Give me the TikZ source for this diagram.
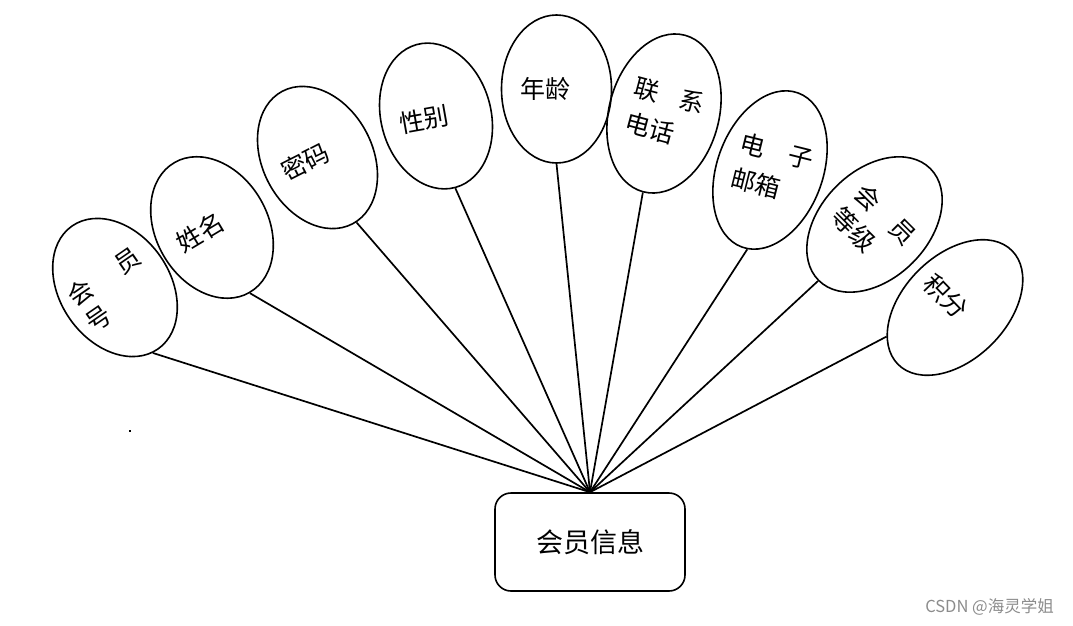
\documentclass[tikz,border=0pt]{standalone}
\usepackage{fontspec}
\newfontfamily\cjk{Noto Sans CJK SC}
\usetikzlibrary{shapes.geometric}
\begin{document}
\begin{tikzpicture}[x=1pt,y=-1pt,
  attr/.style={draw, ellipse, line width=1.6pt, inner sep=0pt},
  lbl/.style={font=\cjk\fontsize{25}{30}\selectfont, align=left, inner sep=0pt},
  conn/.style={line width=1.7pt},
  entity/.style={draw, line width=1.6pt, rounded corners=16pt, minimum width=190pt, minimum height=98pt, inner sep=0pt, font=\cjk\fontsize{27}{30}\selectfont}]
\useasboundingbox (0,0) rectangle (1073,626);
% attribute ellipses
\node[attr, minimum width=110pt, minimum height=150pt, rotate=35] (e1) at (115,287.5) {};
\node[attr, minimum width=112pt, minimum height=150pt, rotate=30] (e2) at (212,227.5) {};
\node[attr, minimum width=110pt, minimum height=150pt, rotate=28] (e3) at (317.5,157.5) {};
\node[attr, minimum width=110pt, minimum height=148pt, rotate=15] (e4) at (436,116) {};
\node[attr, minimum width=110pt, minimum height=148pt] (e5) at (556.5,89) {};
\node[attr, minimum width=110pt, minimum height=162pt, rotate=-15] (e6) at (664,113.5) {};
\node[attr, minimum width=106pt, minimum height=164pt, rotate=-20] (e7) at (770,170) {};
\node[attr, minimum width=108pt, minimum height=158pt, rotate=-45] (e8) at (874.5,224.5) {};
\node[attr, minimum width=104pt, minimum height=161pt, rotate=-45] (e9) at (955,307.5) {};
% labels
\node[lbl, font=\cjk\fontsize{25}{31}\selectfont, rotate=34.5] (t1) at (113,289.5) {会\hspace{32pt}员\\号};
\node[lbl, rotate=31] (t2) at (200.5,232.5) {姓名};
\node[lbl, rotate=27] (t3) at (305.5,161.5) {密码};
\node[lbl, rotate=10] (t4) at (424,119.5) {性别};
\node[lbl] (t5) at (545,88.5) {年龄};
\node[lbl, font=\cjk\fontsize{25}{36}\selectfont, rotate=-15] (t6) at (665,113.4) {联\hspace{21.5pt}系\\电话};
\node[lbl, font=\cjk\fontsize{25}{36}\selectfont, rotate=-14] (t7) at (772.6,168.5) {电\hspace{25pt}子\\邮箱};
\node[lbl, font=\cjk\fontsize{25}{33}\selectfont, rotate=-45] (t8) at (873.8,226.2) {会\hspace{23.5pt}员\\等级};
\node[lbl, rotate=-46] (t9) at (946,296.5) {积分};
% entity
\node[entity] (box) at (590,542) {会员信息};
% connectors
\draw[conn] (e1.265) -- (box.north);
\draw[conn] (e2.270) -- (box.north);
\draw[conn] (e3.273) -- (box.north);
\draw[conn] (e4.270) -- (box.north);
\draw[conn] (e5.270) -- (box.north);
\draw[conn] (e6.270) -- (box.north);
\draw[conn] (e7.274) -- (box.north);
\draw[conn] (e8.270) -- (box.north);
\draw[conn] (e9.248) -- (box.north);
% stray dot
\node[fill, inner sep=0pt, minimum size=2pt] (dot) at (130,431) {};
% watermark
\node[font=\cjk\fontsize{16.5}{19}\selectfont, text=black!45] (wm) at (989.5,607) {CSDN @海灵学姐};
\end{tikzpicture}
\end{document}
